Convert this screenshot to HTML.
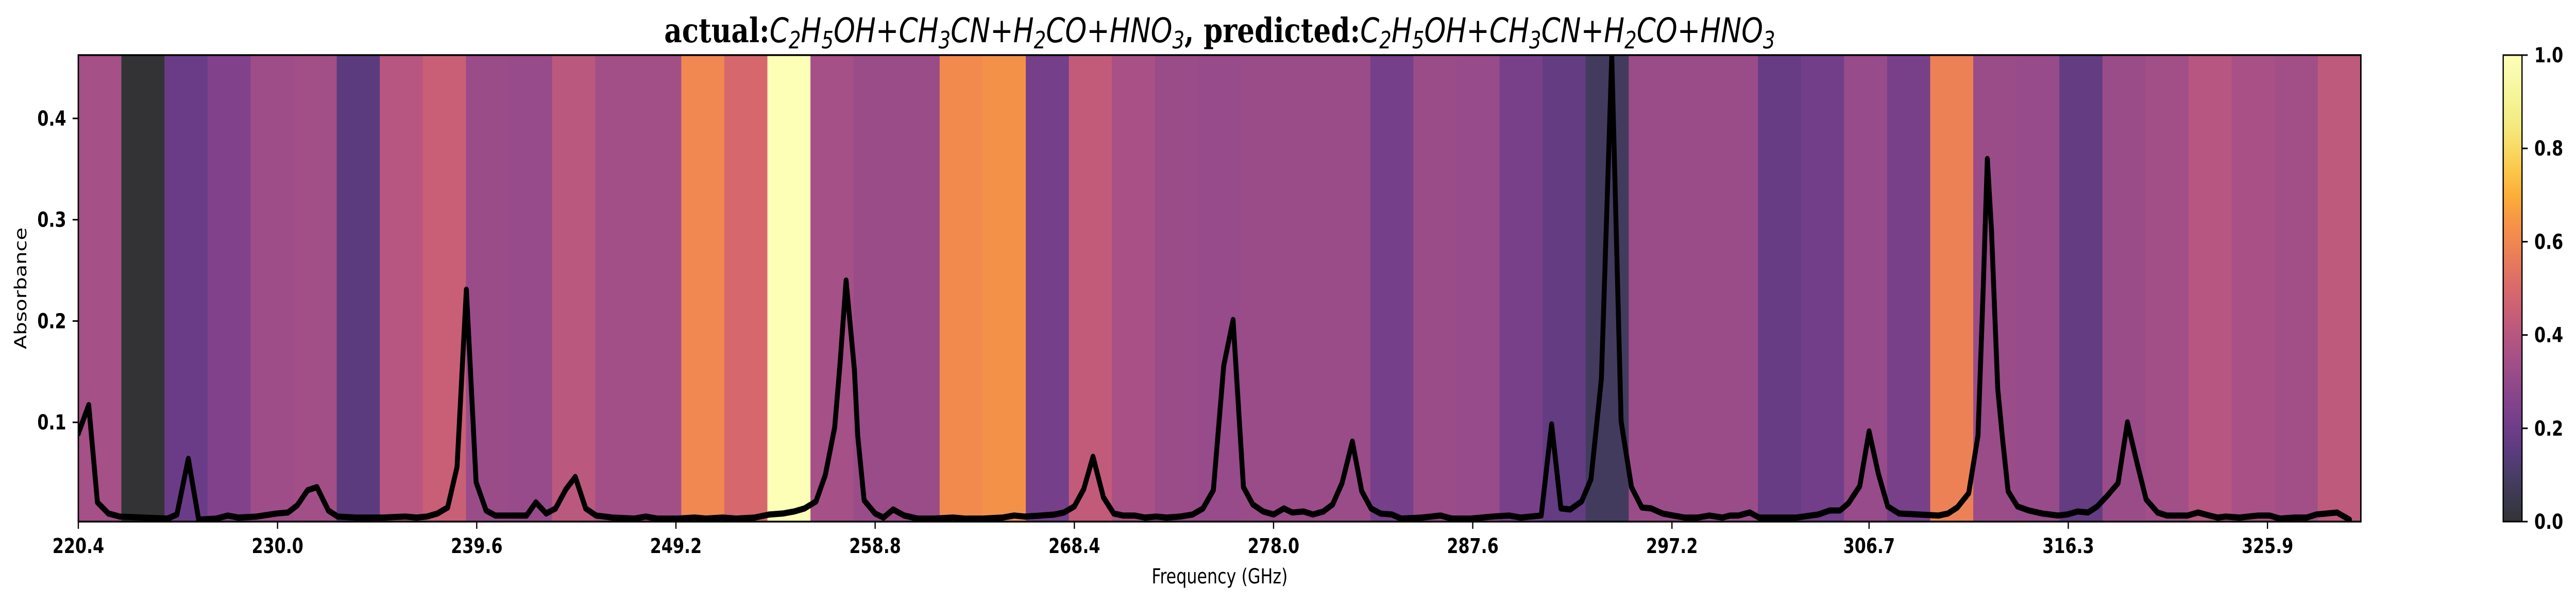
<!DOCTYPE html>
<html><head><meta charset="utf-8">
<style>
html,body{margin:0;padding:0;background:#fff;width:100%;height:100%;overflow:hidden;}
svg{display:block;width:100vw;height:100vh;}
text{font-family:"DejaVu Sans","Liberation Sans",sans-serif;}
</style></head>
<body>
<svg id="chart" viewBox="0 0 6298 1173" preserveAspectRatio="none" xmlns="http://www.w3.org/2000/svg">
<defs>
<linearGradient id="cbgrad" x1="0" y1="1" x2="0" y2="0"></linearGradient>
<clipPath id="plotclip"><rect x="191.5" y="107" width="5580.5" height="906"/></clipPath>
</defs>
<text x="2982" y="82" text-anchor="middle" font-size="66" textLength="2716" lengthAdjust="spacingAndGlyphs"><tspan font-family="DejaVu Serif, Liberation Serif, serif" font-weight="bold">actual:</tspan><tspan font-style="italic">C<tspan font-size="46" dy="12">2</tspan><tspan dy="-12">H</tspan><tspan font-size="46" dy="12">5</tspan><tspan dy="-12">OH+CH</tspan><tspan font-size="46" dy="12">3</tspan><tspan dy="-12">CN+H</tspan><tspan font-size="46" dy="12">2</tspan><tspan dy="-12">CO+HNO</tspan><tspan font-size="46" dy="12">3</tspan></tspan><tspan dy="-12" font-family="DejaVu Serif, Liberation Serif, serif" font-weight="bold">, predicted:</tspan><tspan font-style="italic">C<tspan font-size="46" dy="12">2</tspan><tspan dy="-12">H</tspan><tspan font-size="46" dy="12">5</tspan><tspan dy="-12">OH+CH</tspan><tspan font-size="46" dy="12">3</tspan><tspan dy="-12">CN+H</tspan><tspan font-size="46" dy="12">2</tspan><tspan dy="-12">CO+HNO</tspan><tspan font-size="46" dy="12">3</tspan></tspan></text>
<g id="bands" clip-path="url(#plotclip)"></g>
<g id="line" clip-path="url(#plotclip)"></g>
<rect x="191.5" y="107" width="5580.5" height="906" fill="none" stroke="#000" stroke-width="3.5"/>
<g id="xaxis"></g>
<g id="yaxis"></g>
<text x="2982" y="1133" text-anchor="middle" font-size="40">Frequency (GHz)</text>
<text x="0" y="0" transform="translate(64,560) rotate(-90)" text-anchor="middle" font-size="40">Absorbance</text>
<rect x="6120" y="107" width="46" height="906" fill="url(#cbgrad)" stroke="#000" stroke-width="3"/>
<g id="cbaxis"></g>
</svg>
<script>
const bandValues=[0.35,0.0,0.19,0.25,0.33,0.34,0.15,0.40,0.45,0.32,0.31,0.41,0.34,0.34,0.60,0.49,1.0,0.35,0.32,0.32,0.61,0.63,0.22,0.43,0.36,0.32,0.31,0.32,0.32,0.32,0.22,0.32,0.31,0.23,0.17,0.08,0.32,0.32,0.32,0.18,0.21,0.31,0.23,0.58,0.32,0.31,0.17,0.32,0.34,0.40,0.36,0.34,0.42];
const freqs=[220.4,220.9,221.32,221.85,222.4,223.5,224.7,225.15,225.7,226.2,227.05,227.6,228.1,229.0,229.95,230.5,230.95,231.45,231.9,232.45,232.9,233.8,235.1,236.15,236.7,237.2,237.7,238.2,238.65,239.1,239.57,240.05,240.5,241.0,242.0,242.45,242.95,243.4,243.9,244.35,244.85,245.35,246.15,247.2,247.75,248.3,249.3,250.1,250.65,251.45,252.1,253.0,253.7,254.35,254.9,255.4,255.95,256.4,256.85,257.1,257.4,257.8,257.96,258.27,258.8,259.2,259.67,260.2,260.85,261.65,262.55,263.1,264.0,264.95,265.5,266.0,266.8,267.45,267.9,268.4,268.85,269.3,269.8,270.3,270.75,271.3,271.8,272.35,272.85,273.5,274.1,274.6,275.1,275.6,276.05,276.55,277.0,277.5,278.0,278.5,278.9,279.45,279.9,280.4,280.85,281.3,281.8,282.25,282.7,283.15,283.7,284.15,285.15,286.05,286.6,287.5,288.55,289.35,289.9,290.9,291.4,291.85,292.3,292.85,293.3,293.8,294.3,294.75,295.25,295.75,296.2,296.75,297.25,297.8,298.45,299.0,299.63,300.0,300.4,300.95,301.4,302.4,303.2,304.25,304.8,305.3,305.7,306.25,306.7,307.15,307.6,308.15,309.1,310.05,310.5,310.95,311.5,311.95,312.2,312.4,312.6,312.9,313.15,313.4,313.85,314.4,315.05,315.8,316.25,316.75,317.25,317.7,318.2,318.7,319.15,319.6,320.05,320.6,321.05,322.05,322.55,323.1,323.5,323.9,324.55,325.45,326.0,326.5,327.2,327.8,328.25,329.25,329.85];
const absorb=[0.089,0.117,0.021,0.010,0.007,0.006,0.005,0.009,0.064,0.004,0.005,0.008,0.006,0.007,0.010,0.011,0.018,0.033,0.036,0.013,0.007,0.006,0.006,0.007,0.006,0.007,0.010,0.016,0.056,0.231,0.041,0.013,0.008,0.008,0.008,0.021,0.010,0.015,0.034,0.046,0.015,0.008,0.006,0.005,0.007,0.005,0.005,0.006,0.005,0.006,0.005,0.006,0.009,0.010,0.012,0.015,0.022,0.048,0.095,0.156,0.240,0.152,0.087,0.023,0.010,0.006,0.014,0.008,0.005,0.005,0.006,0.005,0.005,0.006,0.008,0.007,0.008,0.009,0.011,0.017,0.034,0.066,0.026,0.010,0.008,0.008,0.006,0.007,0.006,0.007,0.009,0.015,0.033,0.156,0.201,0.036,0.019,0.012,0.009,0.015,0.011,0.012,0.009,0.012,0.019,0.040,0.081,0.032,0.015,0.010,0.009,0.005,0.006,0.008,0.005,0.005,0.007,0.008,0.006,0.008,0.098,0.015,0.014,0.022,0.044,0.143,0.461,0.101,0.036,0.016,0.015,0.010,0.008,0.006,0.006,0.008,0.006,0.008,0.008,0.011,0.006,0.006,0.006,0.009,0.013,0.013,0.020,0.037,0.091,0.049,0.017,0.010,0.009,0.008,0.010,0.016,0.030,0.087,0.232,0.360,0.289,0.133,0.080,0.032,0.017,0.013,0.010,0.008,0.009,0.012,0.011,0.017,0.028,0.040,0.100,0.061,0.024,0.011,0.008,0.008,0.011,0.008,0.006,0.007,0.006,0.008,0.008,0.005,0.006,0.006,0.009,0.011,0.004];
const xTicks=[220.4,230.0,239.6,249.2,258.8,268.4,278.0,287.6,297.2,306.7,316.3,325.9];
const yTicks=[0.1,0.2,0.3,0.4];
const cbTicks=[0.0,0.2,0.4,0.6,0.8,1.0];

const X0=191.5,X1=5772,Y0=1013,Y1=107,XMIN=220.4,XMAX=330.4,YMIN=0.002,YMAX=0.4625;
const CBX=6120,CBW=46;
function sx(v){return X0+(v-XMIN)/(XMAX-XMIN)*(X1-X0);}
function sy(v){return Y0-(v-YMIN)/(YMAX-YMIN)*(Y0-Y1);}
function cy(v){return Y0-v*(Y0-Y1);}
const inf=[[0,0,0,4],[0.05,10,7,34],[0.1,27,12,65],[0.15,50,10,94],[0.2,74,12,107],[0.25,97,19,110],[0.3,120,28,109],[0.35,143,36,105],[0.4,165,44,96],[0.45,188,55,84],[0.5,207,68,70],[0.55,224,85,54],[0.6,237,105,37],[0.65,245,125,21],[0.7,251,155,6],[0.75,251,182,26],[0.8,247,209,61],[0.85,241,229,95],[0.9,242,240,121],[0.95,246,248,148],[1,252,255,164]];
function color(v){v=Math.max(0,Math.min(1,v));let i=0;while(i<inf.length-2&&inf[i+1][0]<v)i++;const a=inf[i],b=inf[i+1];const t=(v-a[0])/(b[0]-a[0]);const c=[1,2,3].map(k=>Math.round((a[k]+(b[k]-a[k])*t)*0.8+255*0.2));return `rgb(${c[0]},${c[1]},${c[2]})`;}
const NS="http://www.w3.org/2000/svg";
function mk(tag,attrs,parent){const e=document.createElementNS(NS,tag);for(const k in attrs)e.setAttribute(k,attrs[k]);parent.appendChild(e);return e;}

const bands=document.getElementById('bands');
const bw=(XMAX-XMIN)/bandValues.length;
bandValues.forEach((v,i)=>{
  const r=mk('rect',{x:sx(XMIN+i*bw),y:Y1,width:sx(XMIN+(i+1)*bw)-sx(XMIN+i*bw)+0.6,height:Y0-Y1,fill:color(v)},bands);
  
  
});

const lg=document.getElementById('line');
const pts=freqs.map((f,i)=>sx(f).toFixed(1)+','+sy(absorb[i]).toFixed(1)).join(' ');
const pl=mk('polyline',{points:pts,fill:'none',stroke:'#000','stroke-width':12,'stroke-linejoin':'round','stroke-linecap':'round'},lg);



const xa=document.getElementById('xaxis');
xTicks.forEach(t=>{
  const x=sx(t);
  const tk=mk('line',{x1:x,x2:x,y1:Y0,y2:Y0+14,stroke:'#000','stroke-width':3},xa);
  
  
  const tx=mk('text',{x:x,y:1074,'text-anchor':'middle','font-size':40,'font-weight':'bold'},xa);
  tx.textContent=t.toFixed(1);
  
  
});
const ya=document.getElementById('yaxis');
yTicks.forEach(t=>{
  const y=sy(t);
  const tk=mk('line',{x1:X0-14,x2:X0,y1:y,y2:y,stroke:'#000','stroke-width':3},ya);
  
  
  const tx=mk('text',{x:162,y:y+14,'text-anchor':'end','font-size':40,'font-weight':'bold'},ya);
  tx.textContent=t.toFixed(1);
  
  
});
const grad=document.getElementById('cbgrad');
for(let i=0;i<=20;i++){mk('stop',{offset:(i/20),'stop-color':color(i/20)},grad);}
const cba=document.getElementById('cbaxis');
cbTicks.forEach(t=>{
  const y=cy(t);
  const tk=mk('line',{x1:CBX+CBW,x2:CBX+CBW+14,y1:y,y2:y,stroke:'#000','stroke-width':3},cba);
  
  
  const tx=mk('text',{x:6196,y:y+14,'font-size':40,'font-weight':'bold'},cba);
  tx.textContent=t.toFixed(1);
  
  
});
</script>
</body></html>
